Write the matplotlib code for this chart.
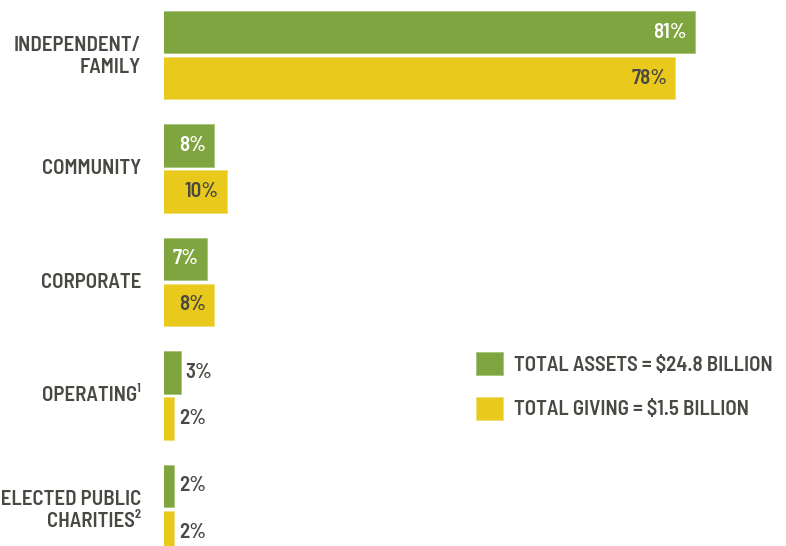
import matplotlib
matplotlib.use("Agg")
import matplotlib.pyplot as plt
from matplotlib.patches import Patch

categories = ["INDEPENDENT/\nFAMILY", "COMMUNITY", "CORPORATE", "OPERATING¹", "SELECTED PUBLIC\nCHARITIES²"]
assets = [81, 8, 7, 3, 2]
giving = [78, 10, 8, 2, 2]
series_labels = ["TOTAL ASSETS = $24.8 BILLION", "TOTAL GIVING = $1.5 BILLION"]

GREEN = "#7fa540"
YELLOW = "#e8c91c"
TEXT = "#4a4843"

FAM = ["Barlow Semi Condensed", "DejaVu Sans"]
plt.rcParams["font.family"] = FAM
FS = 15
WT = 600

W, H = 786, 546
fig = plt.figure(figsize=(W / 100, H / 100), dpi=100)
left_px = 164
ax = fig.add_axes([left_px / W, 0, (W - left_px) / W, 1])

px_per_unit_x = 6.595
x0 = 0.485
ax.set_xlim(x0, x0 + (W - left_px) / px_per_unit_x)
spacing = 113.5
top_c = 55
ax.set_ylim((H - top_c) / spacing, -top_c / spacing)

bh = 42.5 / spacing
off = 23 / spacing
ys = list(range(len(categories)))

ax.barh([y - off for y in ys], assets, height=bh, color=GREEN, edgecolor="#a9c47c", linewidth=0.6)
ax.barh([y + off for y in ys], giving, height=bh, color=YELLOW, edgecolor="#f0dc78", linewidth=0.6)

pad_in = 8 / px_per_unit_x
pad_out = 5 / px_per_unit_x
for y, a, g in zip(ys, assets, giving):
    for val, yy, inside_color in ((a, y - off, "white"), (g, y + off, TEXT)):
        if val >= 7:
            ax.text(val - pad_in, yy, f"{val}%", ha="right", va="center",
                    fontsize=FS, fontweight=WT, color=inside_color)
        else:
            ax.text(val + pad_out, yy, f"{val}%", ha="left", va="center",
                    fontsize=FS, fontweight=WT, color=TEXT)

ax.set_yticks([y - 2 / spacing for y in ys])
ax.set_yticklabels(categories, fontsize=FS, fontweight=WT, color=TEXT,
                   linespacing=1.2, ha="right")
ax.tick_params(axis="y", length=0, pad=23 * 0.72)
ax.set_xticks([])
for s in ax.spines.values():
    s.set_visible(False)

handles = [Patch(facecolor=GREEN, edgecolor="#a9c47c", linewidth=0.6),
           Patch(facecolor=YELLOW, edgecolor="#f0dc78", linewidth=0.6)]
leg = fig.legend(handles, series_labels, loc="upper left",
                 bbox_to_anchor=(468 / W, 1 - 344 / H), frameon=False,
                 prop={"family": FAM, "size": FS, "weight": WT},
                 handlelength=1.3, handleheight=1.3, handletextpad=0.5,
                 labelspacing=1.05, borderaxespad=0)
for t in leg.get_texts():
    t.set_color(TEXT)

fig.savefig("out.png", dpi=100)
